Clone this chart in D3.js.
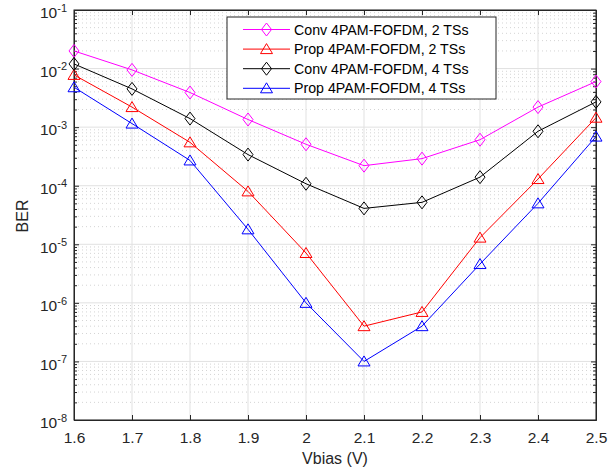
<!DOCTYPE html>
<html>
<head>
<meta charset="utf-8">
<script src="https://cdn.jsdelivr.net/npm/d3@7"></script>
<style>
  body { margin: 0; background: #fff; }
  text { font-family: "Liberation Sans", Arial, sans-serif; fill: #262626; }
</style>
</head>
<body>
<div id="vis"></div>
<script>
// data
let vbias = [1.6, 1.7, 1.8, 1.9, 2.0, 2.1, 2.2, 2.3, 2.4, 2.5]
let conv2 = [2.0e-2, 9.5e-3, 3.9e-3, 1.35e-3, 5.1e-4, 2.2e-4, 2.9e-4, 6.1e-4, 2.2e-3, 6.0e-3]
let prop2 = [7.8e-3, 2.2e-3, 5.5e-4, 8.0e-5, 7.1e-6, 4.0e-7, 7.0e-7, 1.3e-5, 1.3e-4, 1.45e-3]
let conv4 = [1.2e-2, 4.5e-3, 1.4e-3, 3.4e-4, 1.08e-4, 4.1e-5, 5.2e-5, 1.4e-4, 8.5e-4, 2.7e-3]
let prop4 = [4.8e-3, 1.15e-3, 2.7e-4, 1.8e-5, 1.0e-6, 1.0e-7, 4.0e-7, 4.6e-6, 5.0e-5, 6.9e-4]
let xTicks = [1.6, 1.7, 1.8, 1.9, 2.0, 2.1, 2.2, 2.3, 2.4, 2.5]
let yExponents = [-8, -7, -6, -5, -4, -3, -2, -1]

let seriesNames = ["Conv 4PAM-FOFDM, 2 TSs", "Prop 4PAM-FOFDM, 2 TSs", "Conv 4PAM-FOFDM, 4 TSs", "Prop 4PAM-FOFDM, 4 TSs"]
let seriesValues = [conv2, prop2, conv4, prop4]
let seriesColors = ["#ff00ff", "#ff0000", "#000000", "#0000ff"]
let seriesMarkers = ["diamond", "triangle", "diamond", "triangle"]

let svgWidth = 615
let svgHeight = 471
let margin = { left: 74, right: 19, top: 10, bottom: 51 }
let width = svgWidth - margin.left - margin.right
let height = svgHeight - margin.top - margin.bottom

let svg = d3.select('#vis')
    .append('svg')
    .attr('width', svgWidth)
    .attr('height', svgHeight)

let g = svg.append('g')
    .attr('transform', `translate(${margin.left},${margin.top})`)

// scales
let xScale = d3.scaleLinear()
    .domain([1.6, 2.5])
    .range([0, width])

let yScale = d3.scaleLog()
    .domain([1e-8, 1e-1])
    .range([height, 0])

let majorY = yExponents.map(e => Math.pow(10, e))
let minorY = []
yExponents.slice(0, -1).forEach(e => {
    for (let m = 2; m <= 9; m++) minorY.push(m * Math.pow(10, e))
})

// grid
g.append('g').selectAll('line.minor')
    .data(minorY)
    .join('line')
        .attr('x1', 0).attr('x2', width)
        .attr('y1', d => yScale(d)).attr('y2', d => yScale(d))
        .attr('stroke', '#d4d4d4')
        .attr('stroke-width', 1)
        .attr('stroke-dasharray', '1,3')

g.append('g').selectAll('line.majory')
    .data(majorY)
    .join('line')
        .attr('x1', 0).attr('x2', width)
        .attr('y1', d => yScale(d)).attr('y2', d => yScale(d))
        .attr('stroke', '#e1e1e1')
        .attr('stroke-width', 1)

g.append('g').selectAll('line.majorx')
    .data(xTicks)
    .join('line')
        .attr('x1', d => xScale(d)).attr('x2', d => xScale(d))
        .attr('y1', 0).attr('y2', height)
        .attr('stroke', '#e1e1e1')
        .attr('stroke-width', 1)

// axes (ticks point inward like matlab)
let xAxis = d3.axisBottom(xScale)
    .tickValues(xTicks)
    .tickFormat(d3.format('.1f'))
    .tickSizeInner(-5)
    .tickSizeOuter(0)
    .tickPadding(12)

let xAxisG = g.append('g')
    .attr('transform', `translate(0,${height})`)
    .call(xAxis)
xAxisG.selectAll('text')
    .text(d => d === 2 ? '2' : d3.format('.1f')(d))
    .style('font-size', '15.5px')

g.append('g')
    .call(d3.axisTop(xScale).tickValues(xTicks).tickFormat('').tickSizeInner(-5).tickSizeOuter(0))

let yAxisG = g.append('g')
    .call(d3.axisLeft(yScale).tickValues(majorY).tickSizeInner(-5).tickSizeOuter(0).tickPadding(7).tickFormat(''))

yAxisG.selectAll('.tick text')
    .style('font-size', '15.5px')
    .attr('dy', '0.5em')
    .each(function(d) {
        let t = d3.select(this)
        t.append('tspan').text('10')
        t.append('tspan')
            .text(Math.round(Math.log10(d)))
            .attr('dy', '-0.6em')
            .style('font-size', '11px')
    })

g.append('g')
    .call(d3.axisLeft(yScale).tickValues(minorY).tickFormat('').tickSizeInner(-3).tickSizeOuter(0))
g.append('g')
    .attr('transform', `translate(${width},0)`)
    .call(d3.axisRight(yScale).tickValues(majorY).tickFormat('').tickSizeInner(-5).tickSizeOuter(0))
g.append('g')
    .attr('transform', `translate(${width},0)`)
    .call(d3.axisRight(yScale).tickValues(minorY).tickFormat('').tickSizeInner(-3).tickSizeOuter(0))

g.selectAll('.domain').attr('stroke', '#262626')
g.selectAll('.tick line').attr('stroke', '#262626')

// frame
g.append('rect')
    .attr('width', width)
    .attr('height', height)
    .attr('fill', 'none')
    .attr('stroke', '#262626')
    .attr('stroke-width', 1)

// markers
let markerPath = {
    diamond: 'M0,-6.5L5,0L0,6.5L-5,0Z',
    triangle: 'M0,-5.5L6,4.5L-6,4.5Z'
}

let line = d3.line()
    .x((d, i) => xScale(vbias[i]))
    .y(d => yScale(d))

seriesValues.forEach((vals, k) => {
    g.append('path')
        .datum(vals)
        .attr('d', line)
        .attr('fill', 'none')
        .attr('stroke', seriesColors[k])
        .attr('stroke-width', 1)

    g.append('g').selectAll('path')
        .data(vals)
        .join('path')
            .attr('d', markerPath[seriesMarkers[k]])
            .attr('transform', (d, i) => `translate(${xScale(vbias[i])},${yScale(d)})`)
            .attr('fill', 'none')
            .attr('stroke', seriesColors[k])
            .attr('stroke-width', 1)
})

// axis labels
svg.append('text')
    .attr('x', margin.left + width / 2)
    .attr('y', 464)
    .attr('text-anchor', 'middle')
    .style('font-size', '16px')
    .text('Vbias (V)')

svg.append('text')
    .attr('transform', 'translate(28,216) rotate(-90)')
    .attr('text-anchor', 'middle')
    .style('font-size', '16px')
    .text('BER')

// legend
let legend = svg.append('g')
    .attr('transform', 'translate(227,17)')

legend.append('rect')
    .attr('width', 269)
    .attr('height', 82)
    .attr('fill', '#fff')
    .attr('stroke', '#262626')
    .attr('stroke-width', 1)

seriesNames.forEach((name, k) => {
    let ly = 12.5 + k * 19.6
    legend.append('line')
        .attr('x1', 16).attr('x2', 63)
        .attr('y1', ly).attr('y2', ly)
        .attr('stroke', seriesColors[k])
    legend.append('path')
        .attr('d', markerPath[seriesMarkers[k]])
        .attr('transform', `translate(39.5,${ly})`)
        .attr('fill', 'none')
        .attr('stroke', seriesColors[k])
    legend.append('text')
        .attr('x', 67)
        .attr('y', ly)
        .attr('dy', '0.36em')
        .style('font-size', '14.2px')
        .style('fill', '#000')
        .text(name)
})
</script>
</body>
</html>
